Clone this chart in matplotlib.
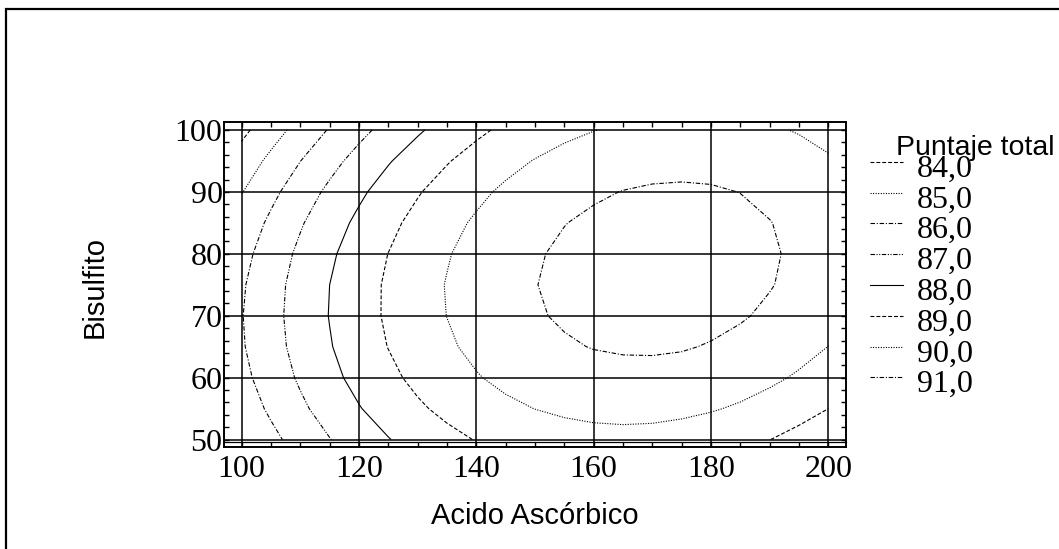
import numpy as np
import matplotlib
matplotlib.use("Agg")
import matplotlib.pyplot as plt
from matplotlib.lines import Line2D
from matplotlib.patches import Rectangle

# Response surface table: Puntaje total over Acido Ascórbico (columns) x Bisulfito (rows)
acido = [100, 105, 110, 115, 120, 125, 130, 135, 140, 145, 150,
         155, 160, 165, 170, 175, 180, 185, 190, 195, 200]
bisulfito = [50, 55, 60, 65, 70, 75, 80, 85, 90, 95, 100]
puntaje = [
    [85.05, 85.75, 86.39, 86.97, 87.49, 87.96, 88.38, 88.74, 89.04, 89.29, 89.48,
     89.61, 89.69, 89.72, 89.69, 89.60, 89.46, 89.26, 89.01, 88.70, 88.33],
    [85.46, 86.16, 86.82, 87.41, 87.95, 88.43, 88.86, 89.23, 89.55, 89.81, 90.01,
     90.16, 90.26, 90.30, 90.28, 90.20, 90.07, 89.89, 89.65, 89.35, 89.00],
    [85.74, 86.46, 87.13, 87.74, 88.29, 88.78, 89.23, 89.61, 89.94, 90.22, 90.43,
     90.60, 90.70, 90.75, 90.75, 90.69, 90.57, 90.40, 90.17, 89.89, 89.55],
    [85.91, 86.64, 87.32, 87.94, 88.51, 89.02, 89.47, 89.87, 90.21, 90.50, 90.73,
     90.91, 91.03, 91.09, 91.10, 91.06, 90.95, 90.80, 90.58, 90.31, 89.99],
    [85.96, 86.70, 87.39, 88.03, 88.61, 89.13, 89.60, 90.01, 90.37, 90.67, 90.92,
     91.10, 91.24, 91.32, 91.34, 91.31, 91.22, 91.07, 90.87, 90.61, 90.30],
    [85.89, 86.65, 87.35, 88.00, 88.59, 89.13, 89.61, 90.04, 90.41, 90.72, 90.98,
     91.18, 91.33, 91.42, 91.45, 91.43, 91.36, 91.23, 91.04, 90.80, 90.50],
    [85.70, 86.47, 87.19, 87.85, 88.46, 89.01, 89.50, 89.94, 90.32, 90.65, 90.92,
     91.14, 91.30, 91.40, 91.45, 91.45, 91.38, 91.27, 91.09, 90.86, 90.58],
    [85.39, 86.18, 86.91, 87.58, 88.20, 88.77, 89.27, 89.73, 90.12, 90.46, 90.75,
     90.98, 91.15, 91.27, 91.33, 91.34, 91.29, 91.19, 91.02, 90.81, 90.54],
    [84.96, 85.76, 86.51, 87.20, 87.83, 88.41, 88.93, 89.39, 89.80, 90.16, 90.46,
     90.70, 90.89, 91.02, 91.09, 91.11, 91.08, 90.99, 90.84, 90.64, 90.38],
    [84.42, 85.23, 85.99, 86.69, 87.34, 87.93, 88.46, 88.94, 89.36, 89.73, 90.04,
     90.30, 90.50, 90.65, 90.74, 90.77, 90.75, 90.67, 90.53, 90.35, 90.10],
    [83.76, 84.58, 85.35, 86.07, 86.73, 87.33, 87.88, 88.37, 88.81, 89.19, 89.51,
     89.78, 89.98, 90.16, 90.26, 90.31, 90.30, 90.23, 90.11, 89.94, 89.70],
]
niveles = [84.0, 85.0, 86.0, 87.0, 88.0, 89.0, 90.0, 91.0]
etiquetas_niveles = ["84,0", "85,0", "86,0", "87,0", "88,0", "89,0", "90,0", "91,0"]

xticks = [100, 120, 140, 160, 180, 200]
xtick_labels = ["100", "120", "140", "160", "180", "200"]
yticks = [50, 60, 70, 80, 90, 100]
ytick_labels = ["50", "60", "70", "80", "90", "100"]

SANS = "Liberation Sans"
SERIF = "Liberation Serif"

W, H = 1059, 549
fig = plt.figure(figsize=(W / 100, H / 100), dpi=100)
fig.patch.set_facecolor("white")


def fx(px):
    return px / W


def fy(py):
    return 1 - py / H


# outer frame of the graphics pane
fig.patches.append(Rectangle((fx(5.5), fy(2000)), fx(3000), fy(8.5) - fy(2000),
                             transform=fig.transFigure, fill=False,
                             edgecolor="black", linewidth=1.6))

ax = fig.add_axes([fx(224), fy(447), fx(846) - fx(224), fy(122) - fy(447)])
ax.set_xlim(97.0, 203.0)
ax.set_ylim(48.8, 101.3)

dash = (0, (3.5, 1.8))
dot = (0, (1.0, 1.3))
dashdot = (0, (4.0, 1.6, 1.0, 1.6))
dashdotdot = (0, (4.0, 1.4, 1.0, 1.4, 1.0, 1.4))
estilos = [dash, dot, dashdot, dashdotdot, "solid", dash, dot, dashdot]

ax.contour(acido, bisulfito, puntaje, levels=niveles, colors="black",
           linewidths=0.8, linestyles=estilos, zorder=3)

ax.set_xticks(xticks)
ax.set_xticklabels(xtick_labels)
ax.set_yticks(yticks)
ax.set_yticklabels(ytick_labels)
ax.set_xticks(np.arange(100, 201, 5), minor=True)
ax.set_yticks(np.arange(50, 101, 2), minor=True)
ax.grid(True, which="major", color="black", linewidth=1.1)
ax.tick_params(which="both", direction="in", top=True, right=True,
               length=3.8, width=1.0, color="black")
ax.tick_params(axis="x", which="major", pad=6, labelsize=23)
ax.tick_params(axis="y", which="major", pad=1, labelsize=23)
for lbl in ax.get_xticklabels() + ax.get_yticklabels():
    lbl.set_fontfamily(SERIF)
for sp in ax.spines.values():
    sp.set_linewidth(1.4)

# inner rule along the bottom tick band
ax.plot([0, 1], [0.0145, 0.0145], transform=ax.transAxes, color="black",
        linewidth=0.9, clip_on=False)

fig.text(fx(535), fy(516), "Acido Ascórbico", ha="center", va="center",
         fontsize=21, family=SANS)
fig.text(fx(95), fy(287), "Bisulfito", ha="center", va="center",
         rotation=90, fontsize=21, family=SANS)

# legend
fig.text(fx(896), fy(155), "Puntaje total", ha="left", va="baseline",
         fontsize=20.5, family=SANS)
for i, (etq, est) in enumerate(zip(etiquetas_niveles, estilos)):
    yl = 161.7 + i * 30.8
    fig.lines.append(Line2D([fx(870), fx(903)], [fy(yl), fy(yl)],
                            transform=fig.transFigure, color="black",
                            linewidth=0.8, linestyle=est))
    fig.text(fx(917), fy(yl + 15), etq, ha="left", va="baseline",
             fontsize=23, family=SERIF)

fig.savefig("out.png", dpi=100, facecolor="white")
